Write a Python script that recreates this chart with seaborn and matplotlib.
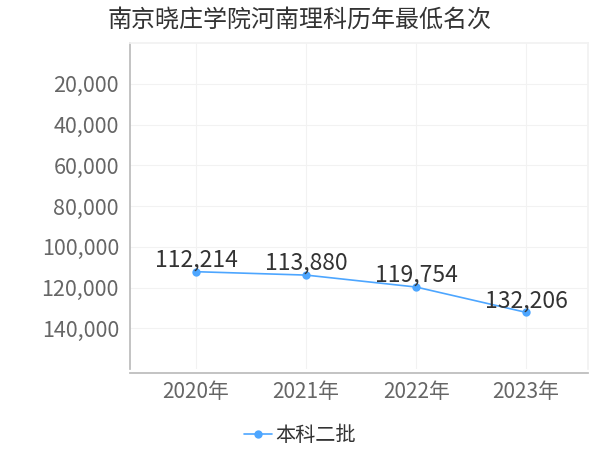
import matplotlib
matplotlib.use('Agg')
import matplotlib.pyplot as plt
import seaborn as sns
import pandas as pd

# ---------- data ----------
years = ['2020年', '2021年', '2022年', '2023年']
ranks = [112214, 113880, 119754, 132206]
series_name = '本科二批'
y_ticks = [20000, 40000, 60000, 80000, 100000, 120000, 140000]

sns.set_theme(style="white")
plt.rcParams['font.family'] = ['Noto Sans CJK SC', 'DejaVu Sans']

df = pd.DataFrame({'year': years, 'rank': ranks, 'batch': series_name})

fig = plt.figure(figsize=(6, 4.5), dpi=100)
ax = fig.add_axes([0.2167, 0.18, 0.763, 0.724])

line_color = '#4da6ff'
sns.lineplot(data=df, x='year', y='rank', hue='batch', palette=[line_color],
             marker='o', markersize=6, markeredgewidth=0, linewidth=1.2,
             sort=False, ax=ax)

for i, v in enumerate(ranks):
    ax.annotate(f'{v:,}', (i, v), xytext=(0, 0), textcoords='offset points',
                ha='center', va='bottom', fontsize=16.5, color='#333333')

ax.set_ylim(160000, 0)
ax.set_xlim(-0.6, 3.56)
ax.set_yticks(y_ticks)
ax.set_yticklabels([f'{t:,}' for t in y_ticks])
ax.grid(True, color='#f2f2f2', linewidth=0.8)
ax.tick_params(axis='x', labelsize=15, colors='#666666', length=0, pad=6)
ax.tick_params(axis='y', labelsize=15.5, colors='#666666', length=4, color='#cccccc', pad=4)
ax.set_xlabel('')
ax.set_ylabel('')

for side in ['top', 'right']:
    ax.spines[side].set_color('#f2f2f2')
for side in ['left', 'bottom']:
    ax.spines[side].set_color('#bbbbbb')
ax.spines['bottom'].set_position(('outward', 3))

fig.suptitle('南京晓庄学院河南理科历年最低名次', x=0.5, y=0.985, va='top',
             fontsize=17.3, color='#333333')

ax.legend(loc='upper center', bbox_to_anchor=(0.371, -0.115), frameon=False,
          fontsize=14.5, handlelength=1.4, handletextpad=0.2, labelcolor='#333333')

fig.savefig('out.png', dpi=100)
